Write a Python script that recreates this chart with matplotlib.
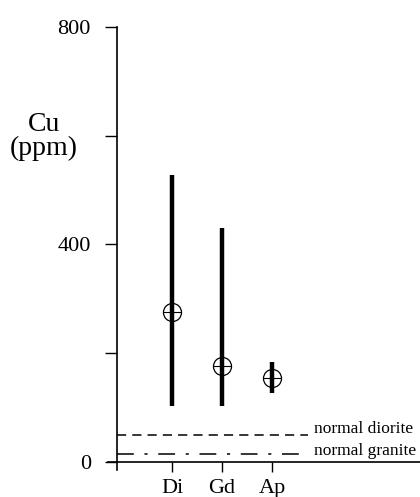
import matplotlib.pyplot as plt
import numpy as np

plt.rcParams['font.family'] = ['Liberation Serif', 'DejaVu Serif']

# rock types and Cu ranges (ppm)
rocks = ['Di', 'Gd', 'Ap']
cu_min = [103, 103, 127]
cu_max = [527, 431, 183]
cu_mean = [275, 176, 154]

normal_diorite = 50
normal_granite = 15

x = np.arange(1, len(rocks) + 1)

fig = plt.figure(figsize=[4.2, 4.97], dpi=100)
ax = fig.add_axes([0.279, 0.0704, 0.721, 0.8753])

ax.vlines(x, cu_min, cu_max, colors='black', linewidth=3.2, zorder=2)
ax.plot(x, cu_mean, 'o', markersize=13, markerfacecolor='none',
        markeredgecolor='black', markeredgewidth=0.9, zorder=3)
ax.plot(x, cu_mean, '+', markersize=13, color='black',
        markeredgewidth=0.8, zorder=3)

ax.plot([-0.1, 3.72], [normal_diorite] * 2, color='black', linewidth=1.1,
        dashes=(6, 4))
ax.plot([-0.1, 3.72], [normal_granite] * 2, color='black', linewidth=1.1,
        dashes=(11, 7, 2, 7))
ax.text(3.84, normal_diorite + 4, 'normal diorite', fontsize=12.5,
        va='baseline')
ax.text(3.84, 13, 'normal granite', fontsize=12.5, va='baseline')

ax.set_xlim(-0.1, 5.96)
ax.set_ylim(0, 800)
ax.set_xticks(x)
ax.set_xticklabels(rocks)
ax.set_yticks([0, 400, 800])
ax.set_yticks([200, 600], minor=True)

ax.spines['top'].set_visible(False)
ax.spines['right'].set_visible(False)
ax.spines['left'].set_linewidth(1.2)
ax.spines['bottom'].set_linewidth(1.2)

ax.tick_params(axis='y', which='both', direction='out', length=9, width=1.0,
               labelsize=16, pad=10)
ax.tick_params(axis='x', direction='out', length=7, width=1.0,
               labelsize=16, pad=5)

# little overhangs of the axis lines
ax.plot([-0.28, -0.1], [0, 0], color='black', linewidth=1.2, clip_on=False)
ax.plot([-0.1, -0.1], [0, -15], color='black', linewidth=1.2, clip_on=False)

fig.text(0.105, 0.726, 'Cu\n(ppm)', fontsize=20, ha='center', va='center',
         linespacing=0.95)

fig.savefig('out.png', dpi=100)
